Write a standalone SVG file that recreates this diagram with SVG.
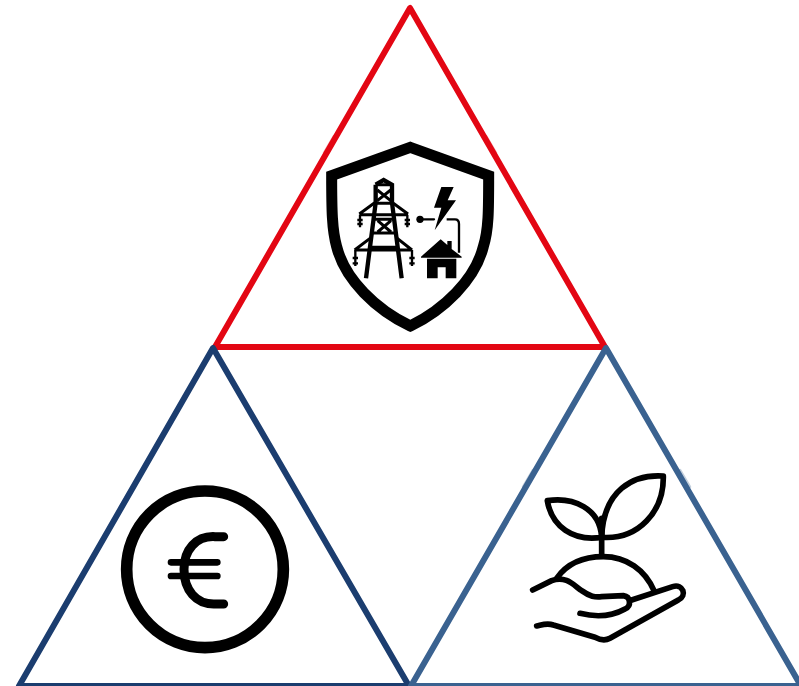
<svg xmlns="http://www.w3.org/2000/svg" width="799" height="686" viewBox="0 0 799 686">
<style>
.tri{fill:none;stroke-width:6;stroke-linejoin:round}
.ic{fill:none;stroke:#000;stroke-linecap:round;stroke-linejoin:round}
.bt{fill:none;stroke:#000;stroke-linecap:butt;stroke-linejoin:miter}
.fl{fill:#000;stroke:none}
.ht{fill:none;stroke-width:2.5;stroke-linecap:round;opacity:.3}
</style>
<rect width="799" height="686" fill="#fff"/>
<g id="triangles">
<polygon id="tri-top" class="tri" stroke="#e30613" points="410,8 215,347 605,347"/>
<polygon id="tri-left" class="tri" stroke="#1b3d6f" points="213,348 19,686 409,686"/>
<polygon id="tri-right" class="tri" stroke="#3a6290" points="606,348 411,686 801,686"/>
<path class="ht" stroke="#e30613" d="M334 136 L324 153 M486 136 L496 153"/>
<path class="ht" stroke="#1b3d6f" d="M130 490 L120 507 M285 472 L295 489"/>
<path class="ht" stroke="#3a6290" d="M533 470 L523 487 M680 470 L690 487"/>
</g>
<g id="icon-grid" transform="translate(310 130) scale(.33333)">
<path class="bt" stroke-width="33" d="M301 52 L536 137 C536 240 536 300 520 350 C495 450 400 540 301 588 C200 540 105 450 80 350 C66 300 65 240 65 137 Z"/>
<path class="bt" stroke-width="13" d="M197 164 L221 150 L246 164 V218 L275 445 M197 164 V218 L168 445"/>
<path class="bt" stroke-width="9" d="M197 164 H246 M202 180 L242 212 M242 180 L202 212 M190 220 H252 M192 220 L148 252 M250 220 L294 252 M148 254 H294 M190 268 H255 M203 272 L243 306 M243 272 L203 306 M186 309 H258 M181 352 H263 M184 322 L134 360 M258 322 L306 360 M134 360 H306"/>
<path class="bt" stroke-width="7" d="M150 254 V292 M292 254 V292 M136 360 V408 M306 360 V408"/>
<path class="bt" stroke-width="7" d="M142 270 H158 M142 282 H158 M284 270 H300 M284 282 H300 M128 384 H144 M128 400 H144 M298 384 H314 M298 400 H314"/>
<circle class="fl" cx="330" cy="268" r="11"/>
<path class="ic" stroke-width="7" d="M330 268 H372"/>
<path class="fl" d="M394 171 H431 L413 211 H438 L374 301 L394 233 H372 Z"/>
<path class="bt" stroke-width="7" d="M410 268 H435 Q447 268 447 282 V368"/>
<path class="fl" d="M333 380 L392 328 L412 345 V333 L425 333 V357 L455 380 L455 383 H333 Z"/>
<path class="fl" d="M351 386 H439 V445 H407 V412 H383 V445 H351 Z"/>
</g>
<g id="icon-euro" transform="translate(110 470) scale(.33333)">
<circle class="ic" cx="285" cy="298" r="235" stroke-width="35"/>
<path class="ic" stroke-width="27" d="M341 200 H315 C258 197 222 240 222 298 C222 360 258 404 315 402 H341"/>
<path class="ic" stroke-width="20" d="M183 277 H322 M183 318 H322"/>
</g>
<g id="icon-plant" transform="translate(510 460) scale(.33333)" class="ic" stroke-width="17">
<path d="M112 122 C190 110 270 145 275 232 C190 245 125 200 112 122 Z"/>
<path d="M460 48 C370 42 280 90 275 232 C385 240 462 155 460 48 Z"/>
<path d="M275 175 V288"/>
<path d="M140 355 C175 305 230 290 280 290 C350 290 405 330 432 392"/>
<path d="M68 390 L125 362 C170 345 195 380 215 392 C240 410 255 412 275 410 L340 407 C362 410 365 438 345 447 C300 472 250 470 210 460"/>
<path d="M365 420 L488 380 C520 370 532 408 505 420 L300 535 C285 543 270 540 255 532 L130 495 C110 488 95 495 80 498"/>
</g>
</svg>
